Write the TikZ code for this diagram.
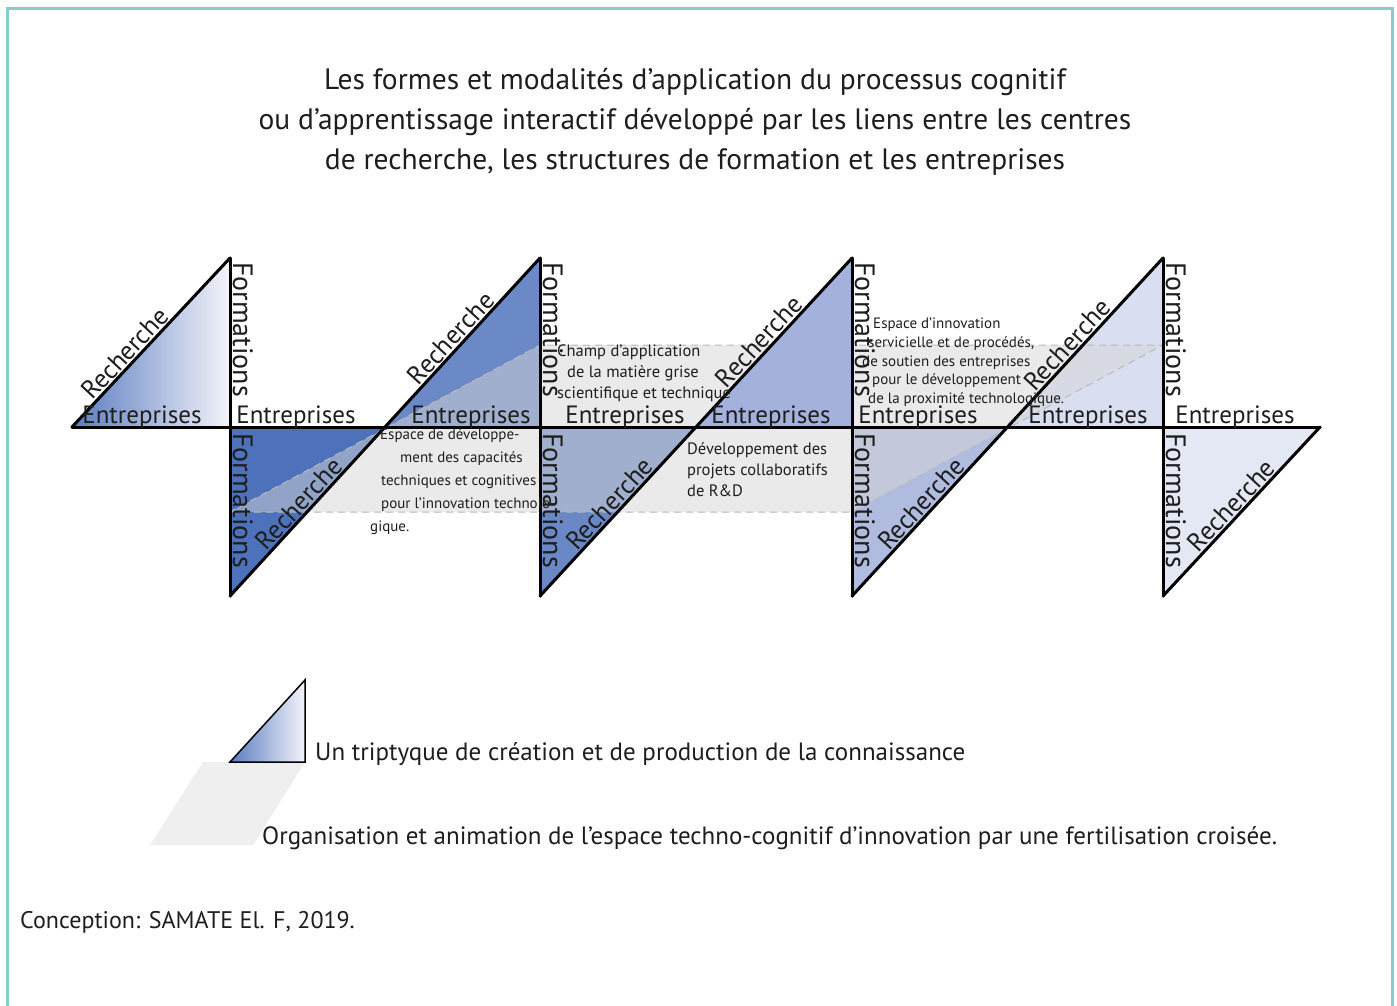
\documentclass[tikz,border=0pt]{standalone}
\usepackage{fontspec}
\setmainfont{PT Sans}
\definecolor{framec}{HTML}{88CCCD}
\definecolor{gradL}{HTML}{5A7BC0}
\definecolor{gradR}{HTML}{F4F4FA}
\definecolor{lowA}{HTML}{4D72BB}
\definecolor{upB}{HTML}{6B89C7}
\definecolor{lowB}{HTML}{6A88C6}
\definecolor{upC}{HTML}{A4B1DC}
\definecolor{lowC}{HTML}{B0BBE0}
\definecolor{upD}{HTML}{D9DEF1}
\definecolor{lowD}{HTML}{E4E7F4}
\definecolor{txt}{HTML}{1E1E1E}
\definecolor{bandc}{HTML}{D6D6D6}
\definecolor{legband}{HTML}{EFEFEF}
\tikzset{
  heavy/.style={line width=3pt, black, line cap=round, line join=round},
  lab/.style={font=\fontsize{25}{25}\selectfont, text=txt, inner sep=0pt},
  rech/.style={lab, font=\fontsize{26}{26}\selectfont, sloped, above=1pt, anchor=south},
  form/.style={lab, font=\fontsize{28}{28}\selectfont, rotate=-90, anchor=base west},
  entr/.style={lab, anchor=base},
  smalltxt/.style={font=\fontsize{16.5}{21}\selectfont, text=txt, inner sep=0pt, align=left, anchor=north west},
  legtxt/.style={font=\fontsize{25}{25}\selectfont, text=txt, inner sep=0pt, anchor=base west},
  band/.style={fill=bandc, fill opacity=0.5, draw=gray!55, dash pattern=on 7pt off 5pt, line width=1pt}
}
\begin{document}
\begin{tikzpicture}[x=1pt, y=-1pt]
\useasboundingbox (0,0) rectangle (1397,1006);
\fill[white] (0,0) rectangle (1397,1006);
% frame
\draw[framec, line width=3pt] (7,1010) -- (7,9) -- (1392,9) -- (1392,1010);

% title
\node[font=\fontsize{29.5}{40}\selectfont, text=txt, align=center, inner sep=0pt] (title) at (695,122)
  {Les formes et modalités d’application du processus cognitif\\
   ou d’apprentissage interactif développé par les liens entre les centres\\
   de recherche, les structures de formation et les entreprises};

% key points
\coordinate (a0) at (72,427);
\coordinate (t1) at (230,258); \coordinate (m1) at (230,427); \coordinate (b1) at (230,596);
\coordinate (t2) at (540,258); \coordinate (m2) at (540,427); \coordinate (b2) at (540,596);
\coordinate (t3) at (852,258); \coordinate (m3) at (852,427); \coordinate (b3) at (852,596);
\coordinate (t4) at (1163,258); \coordinate (m4) at (1163,427); \coordinate (b4) at (1163,596);
\coordinate (f1) at (385,427); \coordinate (f2) at (696,427); \coordinate (f3) at (1007,427);
\coordinate (ee) at (1320,427);

% triangle fills
\path[left color=gradL, right color=gradR] (a0) -- (t1) -- (m1) -- cycle;
\fill[lowA] (m1) -- (f1) -- (b1) -- cycle;
\fill[upB] (f1) -- (t2) -- (m2) -- cycle;
\fill[lowB] (m2) -- (f2) -- (b2) -- cycle;
\fill[lowC] (m3) -- (f3) -- (b3) -- cycle;
\fill[upD] (f3) -- (t4) -- (m4) -- cycle;
\fill[lowD] (m4) -- (ee) -- (b4) -- cycle;

% techno-cognitive band
\coordinate (p1) at (230,512); \coordinate (p2) at (852,512);
\coordinate (p3) at (1163,345); \coordinate (p4) at (540,345);
\path[band] (p1) -- (p2) -- (p3) -- (p4) -- cycle;
\fill[upC] (f2) -- (t3) -- (m3) -- cycle;

% black structure
\draw[heavy] (a0) -- (ee);
\draw[heavy] (t1) -- (b1);
\draw[heavy] (t2) -- (b2);
\draw[heavy] (t3) -- (b3);
\draw[heavy] (t4) -- (b4);
\draw[heavy] (a0) -- node[rech, pos=0.39] (r1) {Recherche} (t1);
\draw[heavy] (b1) -- node[rech, pos=0.25] (r2) {Recherche} node[rech, pos=0.74] (r3) {Recherche} (t2);
\draw[heavy] (b2) -- node[rech, pos=0.25] (r4) {Recherche} node[rech, pos=0.73] (r5) {Recherche} (t3);
\draw[heavy] (b3) -- node[rech, pos=0.25] (r6) {Recherche} node[rech, pos=0.72] (r7) {Recherche} (t4);
\draw[heavy] (b4) -- node[rech, pos=0.49] (r8) {Recherche} (ee);

% Formations
\node[form] (fo1) at (233,262) {Formations};
\node[form] (fo2) at (233,433) {Formations};
\node[form] (fo3) at (543,262) {Formations};
\node[form] (fo4) at (543,433) {Formations};
\node[form] (fo5) at (855,262) {Formations};
\node[form] (fo6) at (855,433) {Formations};
\node[form] (fo7) at (1166,262) {Formations};
\node[form] (fo8) at (1166,433) {Formations};

% Entreprises
\node[entr] (en1) at (142,423) {Entreprises};
\node[entr] (en2) at (296,423) {Entreprises};
\node[entr] (en3) at (471,423) {Entreprises};
\node[entr] (en4) at (625,423) {Entreprises};
\node[entr] (en5) at (771,423) {Entreprises};
\node[entr] (en6) at (918,423) {Entreprises};
\node[entr] (en7) at (1088,423) {Entreprises};
\node[entr] (en8) at (1235,423) {Entreprises};

% small texts
\node[smalltxt] (champ) at (557,345)
  {Champ d’application\\\hspace*{10pt}de la matière grise\\scientifique et technique};
\node[smalltxt] (devproj) at (687,442)
  {Développement des\\projets collaboratifs\\de R\&D};
\node[smalltxt, font=\fontsize{15}{18.7}\selectfont] (innov) at (862,318)
  {\hspace*{11pt}Espace d’innovation\\\hspace*{6pt}servicielle et de procédés,\\de soutien des entreprises\\\hspace*{10pt}pour le développement\\\hspace*{6pt}de la proximité technologique.};
\node[smalltxt, font=\fontsize{15}{23}\selectfont] (espdev) at (370,428)
  {\hspace*{10pt}Espace de développe-\\\hspace*{30pt}ment des capacités\\\hspace*{11pt}techniques et cognitives\\\hspace*{11pt}pour l’innovation technolo-\\gique.};

% legend
\fill[legband] (203,762) -- (305,762) -- (253,845) -- (150,845) -- cycle;
\coordinate (l1) at (230,762); \coordinate (l2) at (305,680); \coordinate (l3) at (305,762);
\path[left color=gradL, right color=gradR] (l1) -- (l2) -- (l3) -- cycle;
\draw[black, line width=1.5pt, line join=miter] (l1) -- (l2) -- (l3) -- cycle;
\node[legtxt] (leg1) at (315,760) {Un triptyque de création et de production de la connaissance};
\node[legtxt] (leg2) at (262,844) {Organisation et animation de l’espace techno-cognitif d’innovation par une fertilisation croisée.};
\node[legtxt, font=\fontsize{24}{24}\selectfont] (cred) at (20,928) {Conception: SAMATE El. F, 2019.};
\end{tikzpicture}
\end{document}
